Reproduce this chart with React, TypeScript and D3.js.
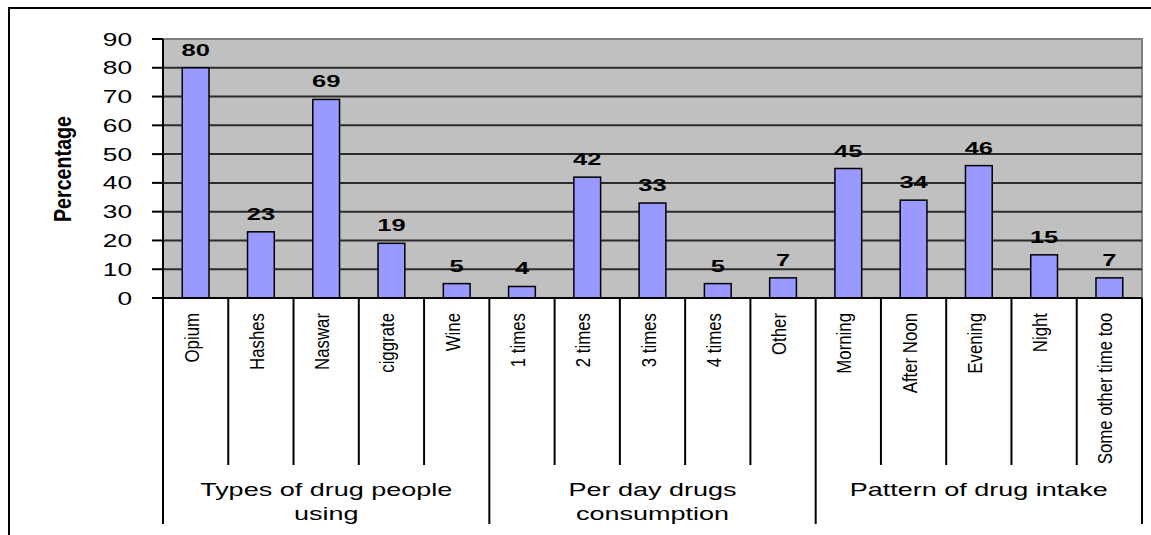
import React from "react";
import * as d3 from "d3";

const categories = [
  "Opium", "Hashes", "Naswar", "ciggrate", "Wine",
  "1 times", "2 times", "3 times", "4 times", "Other",
  "Morning", "After Noon", "Evening", "Night", "Some other time too",
];
const values = [80, 23, 69, 19, 5, 4, 42, 33, 5, 7, 45, 34, 46, 15, 7];
const groupLabels = [
  ["Types of drug people", "using"],
  ["Per day drugs", "consumption"],
  ["Pattern of drug intake"],
];
const groupSizes = [5, 5, 5];
const yTicks = [0, 10, 20, 30, 40, 50, 60, 70, 80, 90];
const yTitle = "Percentage";

const W = 1151;
const H = 535;
const plot = { left: 163, right: 1142, top: 39, bottom: 298 };
const SX = 1.5; // horizontal stretch applied to upright text
const NARROW = 0.82; // condensed width for rotated text
const sans = "'Liberation Sans', Arial, sans-serif";

export default function App() {
  const x = d3
    .scaleBand<string>()
    .domain(categories)
    .range([plot.left, plot.right])
    .paddingInner(0.59)
    .paddingOuter(0.295);
  const sep = d3.scaleLinear().domain([0, categories.length]).range([plot.left, plot.right]);
  const y = d3.scaleLinear().domain([0, 90]).range([plot.bottom, plot.top]);

  // group boundaries in category-index units
  const bounds: number[] = [0];
  groupSizes.forEach((s) => bounds.push(bounds[bounds.length - 1] + s));

  return (
    <svg
      width={W}
      height={H}
      style={{ position: "absolute", left: 0, top: 0, background: "#fff" }}
    >
      {/* chart frame */}
      <rect x={9} y={8} width={1200} height={600} fill="#fff" stroke="#000" strokeWidth={2} />

      {/* plot area */}
      <rect
        x={plot.left}
        y={plot.top}
        width={plot.right - plot.left}
        height={plot.bottom - plot.top}
        fill="#C0C0C0"
        stroke="#808080"
        strokeWidth={2}
      />

      {/* gridlines */}
      {yTicks
        .filter((t) => t > 0 && t < 90)
        .map((t) => (
          <line
            key={"g" + t}
            x1={plot.left}
            x2={plot.right}
            y1={y(t)}
            y2={y(t)}
            stroke="#2b2b2b"
            strokeWidth={2}
          />
        ))}

      {/* bars */}
      {categories.map((c, i) => (
        <rect
          key={"b" + c}
          x={x(c)!}
          y={y(values[i])}
          width={x.bandwidth()}
          height={y(0) - y(values[i])}
          fill="#9999FF"
          stroke="#000"
          strokeWidth={1.5}
        />
      ))}

      {/* value labels */}
      {categories.map((c, i) => (
        <text
          key={"v" + c}
          transform={`translate(${x(c)! + x.bandwidth() / 2},${y(values[i]) - 12}) scale(${SX},1)`}
          textAnchor="middle"
          fontFamily={sans}
          fontWeight="bold"
          fontSize={17}
          fill="#000"
        >
          {values[i]}
        </text>
      ))}

      {/* y axis */}
      <line x1={plot.left} x2={plot.left} y1={plot.top} y2={plot.bottom} stroke="#000" strokeWidth={2} />
      {yTicks.map((t) => (
        <g key={"t" + t}>
          <line x1={plot.left - 11} x2={plot.left} y1={y(t)} y2={y(t)} stroke="#000" strokeWidth={2} />
          <text
            transform={`translate(${plot.left - 31},${y(t) + 6.5}) scale(${SX},1)`}
            textAnchor="end"
            fontFamily={sans}
            fontSize={17.5}
            fill="#000"
          >
            {t}
          </text>
        </g>
      ))}
      <text
        transform={`translate(71,169) rotate(-90) scale(${NARROW},1)`}
        textAnchor="middle"
        fontFamily={sans}
        fontWeight="bold"
        fontSize={24}
        fill="#000"
      >
        {yTitle}
      </text>

      {/* x axis */}
      <line x1={plot.left} x2={plot.right} y1={plot.bottom} y2={plot.bottom} stroke="#000" strokeWidth={2} />

      {/* category separators */}
      {d3.range(categories.length + 1).map((k) => {
        const isGroup = bounds.includes(k);
        return (
          <line
            key={"s" + k}
            x1={sep(k)}
            x2={sep(k)}
            y1={plot.bottom}
            y2={isGroup ? 524 : 465}
            stroke="#000"
            strokeWidth={2}
          />
        );
      })}

      {/* category labels */}
      {categories.map((c) => (
        <text
          key={"c" + c}
          transform={`translate(${x(c)! + x.bandwidth() / 2 + 3},313) rotate(-90) scale(${NARROW},1)`}
          textAnchor="end"
          fontFamily={sans}
          fontSize={20.5}
          fill="#000"
        >
          {c}
        </text>
      ))}

      {/* group labels */}
      {groupLabels.map((lines, gi) => {
        const cx = (sep(bounds[gi]) + sep(bounds[gi + 1])) / 2;
        return lines.map((ln, li) => (
          <text
            key={"gl" + gi + "-" + li}
            transform={`translate(${cx},${496 + li * 24}) scale(${SX},1)`}
            textAnchor="middle"
            fontFamily={sans}
            fontSize={18}
            fill="#000"
          >
            {ln}
          </text>
        ));
      })}
    </svg>
  );
}
